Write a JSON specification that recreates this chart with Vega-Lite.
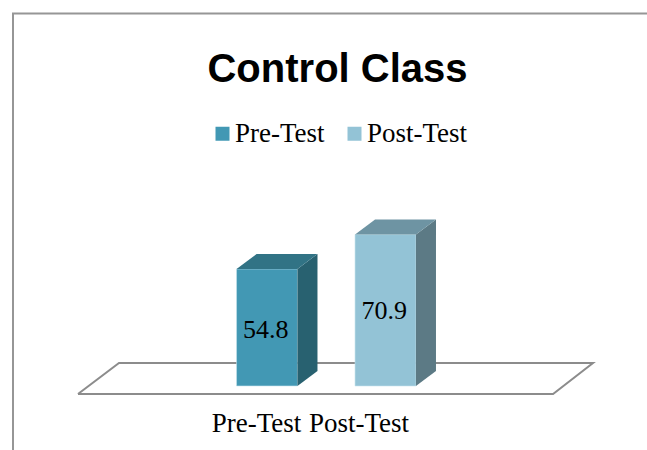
{"$schema":"https://vega.github.io/schema/vega-lite/v6.json","width":647,"height":450,"autosize":"none","padding":0,"background":"white","config":{"view":{"stroke":null}},
"title":{"text":"Control Class","font":"Liberation Sans","fontSize":40,"fontWeight":"bold","color":"black","anchor":"middle","offset":-90,"dx":14},
"datasets":{
"bars":[{"category":"Pre-Test","value":54.8,"x0":0.743,"x1":1.257,"base":0,"labelX":0.99,"labelY":26.2,"axisX":0.912},{"category":"Post-Test","value":70.9,"x0":1.743,"x1":2.257,"base":0,"labelX":1.99,"labelY":35.1,"axisX":1.776}],
"sides":[{"category":"Pre-Test","x":1.257,"top":54.8,"bottom":0},{"category":"Pre-Test","x":1.426,"top":61.83,"bottom":7.03},{"category":"Post-Test","x":2.257,"top":70.9,"bottom":0},{"category":"Post-Test","x":2.426,"top":77.93,"bottom":7.03}],
"tops":[{"category":"Pre-Test","x":0.743,"top":54.8,"bottom":54.8},{"category":"Pre-Test","x":0.912,"top":61.83,"bottom":54.8},{"category":"Pre-Test","x":1.257,"top":61.83,"bottom":54.8},{"category":"Pre-Test","x":1.426,"top":61.83,"bottom":61.83},{"category":"Post-Test","x":1.743,"top":70.9,"bottom":70.9},{"category":"Post-Test","x":1.912,"top":77.93,"bottom":70.9},{"category":"Post-Test","x":2.257,"top":77.93,"bottom":70.9},{"category":"Post-Test","x":2.426,"top":77.93,"bottom":77.93}],
"floor":[{"x":-0.595,"y":-3.75,"i":0},{"x":-0.249,"y":10.77,"i":1},{"x":3.751,"y":10.77,"i":2},{"x":3.414,"y":-3.75,"i":3},{"x":-0.595,"y":-3.75,"i":4}],
"frame":[{"x":-1.1435,"y":-30,"i":0},{"x":-1.1435,"y":174.5,"i":1},{"x":4.2068,"y":174.5,"i":2}]
},
"resolve":{"scale":{"color":"independent"}},
"layer":[
{"data":{"name":"frame"},"mark":{"type":"line","color":"#969696","strokeWidth":2,"clip":false},"encoding":{"x":{"field":"x","type":"quantitative","scale":{"domain":[-1.2532,4.2068],"nice":false,"zero":false},"axis":null},"y":{"field":"y","type":"quantitative","scale":{"domain":[-30,180.8],"nice":false,"zero":false},"axis":null},"order":{"field":"i"}}},
{"data":{"name":"floor"},"mark":{"type":"line","color":"#8c8c8c","strokeWidth":2},"encoding":{"x":{"field":"x","type":"quantitative"},"y":{"field":"y","type":"quantitative"},"order":{"field":"i"}}},
{"data":{"name":"bars"},"mark":{"type":"rect","stroke":"#c4e2ec","strokeWidth":0.6},"encoding":{"x":{"field":"x0","type":"quantitative"},"x2":{"field":"x1"},"y":{"field":"value","type":"quantitative"},"y2":{"field":"base"},"color":{"field":"category","type":"nominal","sort":["Pre-Test","Post-Test"],"scale":{"domain":["Pre-Test","Post-Test"],"range":["#4298b4","#93c3d6"]},"legend":{"title":null,"orient":"none","legendX":209,"legendY":120,"direction":"horizontal","columns":2,"symbolType":"square","symbolSize":196,"symbolStrokeWidth":0,"labelFont":"Liberation Serif","labelFontSize":27,"labelColor":"black","columnPadding":16,"labelOffset":-1,"labelLimit":200}}}},
{"data":{"name":"sides"},"mark":{"type":"area","orient":"vertical"},"encoding":{"x":{"field":"x","type":"quantitative"},"y":{"field":"top","type":"quantitative"},"y2":{"field":"bottom"},"color":{"field":"category","type":"nominal","scale":{"domain":["Pre-Test","Post-Test"],"range":["#286170","#5c7a85"]},"legend":null}}},
{"data":{"name":"tops"},"mark":{"type":"area","orient":"vertical"},"encoding":{"x":{"field":"x","type":"quantitative"},"y":{"field":"top","type":"quantitative"},"y2":{"field":"bottom"},"color":{"field":"category","type":"nominal","scale":{"domain":["Pre-Test","Post-Test"],"range":["#317385","#6e94a3"]},"legend":null}}},
{"data":{"name":"bars"},"mark":{"type":"text","font":"Liberation Serif","fontSize":26,"color":"black","baseline":"middle"},"encoding":{"x":{"field":"labelX","type":"quantitative"},"y":{"field":"labelY","type":"quantitative"},"text":{"field":"value","type":"quantitative","format":".1f"}}},
{"data":{"name":"bars"},"mark":{"type":"text","font":"Liberation Serif","fontSize":27,"color":"black","baseline":"middle","y":424},"encoding":{"x":{"field":"axisX","type":"quantitative"},"text":{"field":"category","type":"nominal"}}}
]}
